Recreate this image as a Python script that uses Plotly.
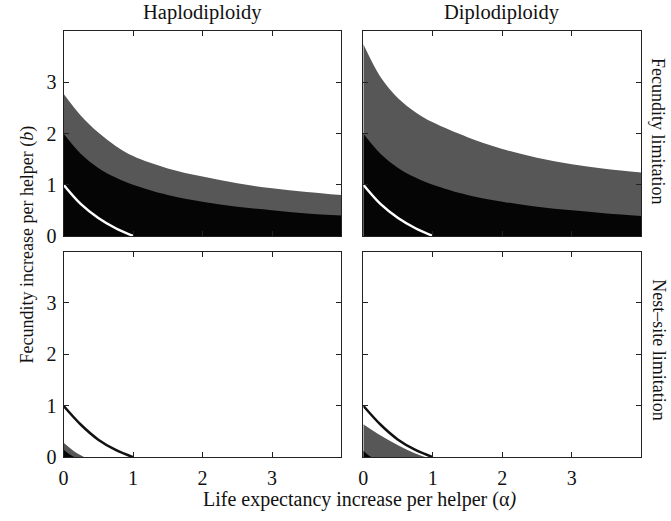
import plotly.graph_objects as go

# ---- data ----
ALPHA = [0, 0.25, 0.5, 0.75, 1, 1.5, 2, 2.5, 3, 3.5, 4]
HAP_FEC_GRAY = [2.78, 2.35, 2.02, 1.76, 1.56, 1.32, 1.16, 1.03, 0.93, 0.86, 0.80]
DIP_FEC_GRAY = [3.75, 3.10, 2.69, 2.42, 2.22, 1.93, 1.70, 1.53, 1.40, 1.31, 1.24]
HAP_FEC_BLACK = [2.0, 1.6, 1.33, 1.14, 1.0, 0.8, 0.67, 0.57, 0.5, 0.44, 0.40]
DIP_FEC_BLACK = [2.0, 1.6, 1.33, 1.14, 1.0, 0.8, 0.67, 0.57, 0.5, 0.44, 0.39]

LINE_ALPHA = [0, 0.25, 0.5, 0.75, 1.0]
FEC_WHITE_LINE = [1.0, 0.62, 0.35, 0.15, 0.0]
NEST_BLACK_LINE = [1.0, 0.63, 0.34, 0.14, 0.0]

NEST_HAP_GRAY_A = [0, 0.1, 0.2, 0.3]
NEST_HAP_GRAY_B = [0.28, 0.17, 0.07, 0.0]
NEST_HAP_BLACK_A = [0, 0.08, 0.16]
NEST_HAP_BLACK_B = [0.15, 0.06, 0.0]
NEST_DIP_GRAY_A = [0, 0.25, 0.5, 0.75, 0.9]
NEST_DIP_GRAY_B = [0.64, 0.42, 0.23, 0.07, 0.0]
NEST_DIP_BLACK_A = [0, 0.06, 0.12]
NEST_DIP_BLACK_B = [0.13, 0.05, 0.0]

TICKS = [0, 1, 2, 3]
COL_TITLES = ["Haplodiploidy", "Diplodiploidy"]
ROW_TITLES = ["Fecundity limitation", "Nest\u2013site limitation"]

GRAY = "#575757"
BLACK = "#050505"
FONT = "Liberation Serif"

fig = go.Figure()


def area(xs, ys, color, xa, ya):
    fig.add_trace(go.Scatter(x=xs, y=ys, mode="lines", fill="tozeroy",
                             fillcolor=color, line=dict(color=color, width=0, shape="spline"),
                             xaxis=xa, yaxis=ya, hoverinfo="skip", showlegend=False))


def line(xs, ys, color, xa, ya):
    fig.add_trace(go.Scatter(x=xs, y=ys, mode="lines",
                             line=dict(color=color, width=2.5, shape="spline"),
                             xaxis=xa, yaxis=ya, hoverinfo="skip", showlegend=False))


# top-left: haplodiploidy, fecundity limitation
area(ALPHA, HAP_FEC_GRAY, GRAY, "x", "y")
area(ALPHA, HAP_FEC_BLACK, BLACK, "x", "y")
line(LINE_ALPHA, FEC_WHITE_LINE, "white", "x", "y")
# top-right: diplodiploidy, fecundity limitation
area(ALPHA, DIP_FEC_GRAY, GRAY, "x2", "y2")
area(ALPHA, DIP_FEC_BLACK, BLACK, "x2", "y2")
line(LINE_ALPHA, FEC_WHITE_LINE, "white", "x2", "y2")
# bottom-left: haplodiploidy, nest-site limitation
area(NEST_HAP_GRAY_A, NEST_HAP_GRAY_B, GRAY, "x3", "y3")
area(NEST_HAP_BLACK_A, NEST_HAP_BLACK_B, BLACK, "x3", "y3")
line(LINE_ALPHA, NEST_BLACK_LINE, "#111111", "x3", "y3")
# bottom-right: diplodiploidy, nest-site limitation
area(NEST_DIP_GRAY_A, NEST_DIP_GRAY_B, GRAY, "x4", "y4")
area(NEST_DIP_BLACK_A, NEST_DIP_BLACK_B, BLACK, "x4", "y4")
line(LINE_ALPHA, NEST_BLACK_LINE, "#111111", "x4", "y4")

W, H = 671, 521
XD = [[59 / W, 339 / W], [361 / W, 641 / W]]
YD = [[1 - 241 / H, 1 - 32 / H], [1 - 467 / H, 1 - 257 / H]]


def ax(domain, labels, anchor, standoff):
    return dict(domain=domain, range=[0, 4], tickvals=TICKS, showticklabels=labels,
                ticks="inside", ticklen=5, tickcolor="#222", mirror="ticks",
                showline=True, linecolor="#222", linewidth=1, showgrid=False,
                zeroline=False, anchor=anchor, fixedrange=True,
                ticklabelstandoff=standoff,
                tickfont=dict(family=FONT, size=20, color="#111"))


layout = dict(width=W, height=H, margin=dict(l=0, r=0, t=0, b=0),
              paper_bgcolor="white", plot_bgcolor="white",
              font=dict(family=FONT, size=18, color="#111"))
layout["xaxis"] = ax(XD[0], False, "y", 3)
layout["yaxis"] = ax(YD[0], True, "x", 2)
layout["xaxis2"] = ax(XD[1], False, "y2", 3)
layout["yaxis2"] = ax(YD[0], False, "x2", 2)
layout["xaxis3"] = ax(XD[0], True, "y3", 3)
layout["yaxis3"] = ax(YD[1], True, "x3", 2)
layout["xaxis4"] = ax(XD[1], True, "y4", 3)
layout["yaxis4"] = ax(YD[1], False, "x4", 2)
fig.update_layout(**layout)

ann = []
for i, t in enumerate(COL_TITLES):
    ann.append(dict(text=t, x=sum(XD[i]) / 2, y=1 - 13 / H, xref="paper", yref="paper",
                    xanchor="center", yanchor="middle", showarrow=False,
                    font=dict(family=FONT, size=20.5, color="#111")))
rows_y = [1 - 134 / H, 1 - 358 / H]
for i, t in enumerate(ROW_TITLES):
    ann.append(dict(text=t, x=658 / W, y=rows_y[i], xref="paper", yref="paper",
                    xanchor="center", yanchor="middle", showarrow=False, textangle=90,
                    font=dict(family=FONT, size=18, color="#111")))
ann.append(dict(text="Fecundity increase per helper (<i>b</i>)", x=23 / W, y=1 - 250 / H,
                xref="paper", yref="paper", xanchor="center", yanchor="middle",
                showarrow=False, textangle=-90, font=dict(family=FONT, size=18, color="#111")))
ann.append(dict(text="Life expectancy increase per helper (\u03b1<i>)</i>", x=357 / W, y=1 - 496 / H,
                xref="paper", yref="paper", xanchor="center", yanchor="top",
                showarrow=False, font=dict(family=FONT, size=20, color="#111")))
fig.update_layout(annotations=ann)

fig.write_html("out.html")
